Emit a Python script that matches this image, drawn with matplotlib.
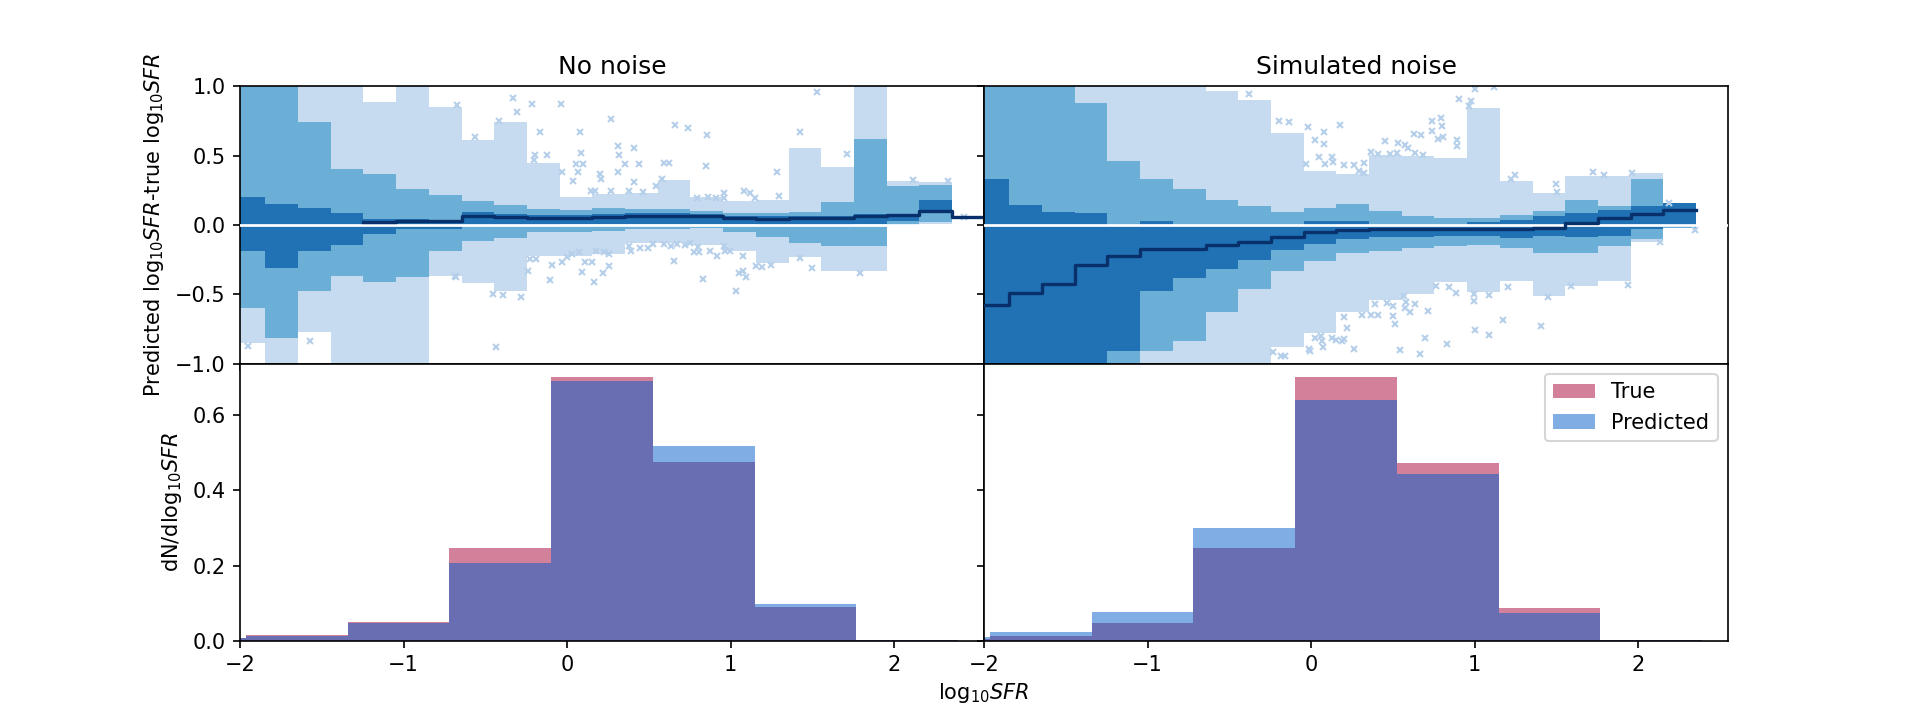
import numpy as np
import matplotlib
matplotlib.use('Agg')
import matplotlib.pyplot as plt

nan = np.nan

# residual bins in log10 SFR (width 0.2)
bin_edges = np.round(np.arange(-2.045, 2.6, 0.2), 3)

# ---- No noise: percentile bands of residual per bin ----
left_med = [nan, nan, nan, nan, 0.024, 0.029, 0.026, 0.067, 0.06, 0.053, 0.053, 0.06,
            0.065, 0.067, 0.062, 0.048, 0.043, 0.048, 0.048, 0.062, 0.075, 0.10, 0.055]
left_dark_hi = [0.204, 0.151, 0.123, 0.084, 0.04, 0.043, 0.038, 0.091, 0.079, 0.072, 0.072, 0.079,
                0.084, 0.089, 0.079, 0.067, 0.062, 0.065, 0.067, 0.082, 0.082, 0.178, 0.055]
left_dark_lo = [-0.19, -0.31, -0.185, -0.142, -0.065, -0.029, -0.029, -0.01, -0.01, 0.0, 0.005, 0.01,
                0.01, 0.01, 0.01, 0.005, 0.0, 0.0, 0.0, 0.01, 0.03, 0.084, 0.055]
left_mid_hi = [1.1, 1.1, 0.745, 0.401, 0.368, 0.257, 0.214, 0.175, 0.142, 0.113, 0.108, 0.12,
               0.113, 0.113, 0.099, 0.087, 0.089, 0.091, 0.168, 0.618, 0.284, 0.29, 0.055]
left_mid_lo = [-0.60, -0.815, -0.478, -0.365, -0.409, -0.373, -0.185, -0.118, -0.094, -0.048, -0.048, -0.043,
               -0.031, -0.029, -0.024, -0.048, -0.087, -0.127, -0.151, -0.151, 0.0, 0.02, 0.055]
left_light_hi = [1.2, 1.2, 1.2, 1.2, 0.885, 1.2, 0.849, 0.615, 0.74, 0.45, 0.204, 0.221,
                 0.23, 0.322, 0.204, 0.171, 0.18, 0.555, 0.416, 1.2, 0.32, 0.308, 0.055]
left_light_lo = [-0.853, -1.2, -0.774, -1.2, -1.2, -1.2, -0.365, -0.42, -0.476, -0.224, -0.224, -0.207,
                 -0.132, -0.132, -0.142, -0.185, -0.272, -0.231, -0.329, -0.329, -0.01, 0.01, 0.055]

left_out_x = [-0.670, -0.333, -0.306, -0.213, -0.034, -0.415, -0.163, 0.080, 0.268, 0.309, 0.408, 0.315,
              0.086, -0.195, -0.125, -0.201, 0.057, 0.098, 0.356, 0.441, 0.590, 0.625, 0.660, 0.740,
              0.854, 0.848, 1.528, 1.422, 1.712, 1.282, -0.031, 0.066, 0.312, 0.039, 0.203, 0.209,
              0.578, 0.408, 0.543, 0.145, 0.174, 0.271, 0.379, 0.467, 0.795, 0.863, 0.912, 0.962,
              0.962, 1.082, 1.118, 1.150, 1.299, 2.114, 2.330, 2.430, -0.564,
              -0.676, -0.687, -0.453, -0.394, -0.283, -0.432, -1.950, -1.569, -0.227, -0.189, -0.239,
              -0.090, -0.031, -0.002, 0.028, 0.071, 0.110, 0.151, 0.180, 0.227, 0.259, 0.259, 0.089,
              0.218, 0.162, -0.104, 0.379, 0.394, 0.444, 0.496, 0.526, 0.593, 0.637, 0.672, 0.719,
              0.751, 0.775, 0.804, 0.798, 0.877, 0.918, 0.965, 0.994, 1.076, 0.657, 0.833, 1.033,
              1.050, 1.076, 1.094, 1.156, 1.194, 1.246, 1.425, 1.501, 1.791, 0.962]
left_out_y = [0.865, 0.913, 0.813, 0.873, 0.873, 0.748, 0.668, 0.668, 0.764, 0.567, 0.553, 0.505,
              0.517, 0.505, 0.505, 0.471, 0.440, 0.440, 0.440, 0.440, 0.445, 0.445, 0.724, 0.697,
              0.651, 0.428, 0.957, 0.668, 0.512, 0.385, 0.380, 0.385, 0.385, 0.315, 0.368, 0.332,
              0.332, 0.308, 0.284, 0.248, 0.248, 0.248, 0.248, 0.236, 0.192, 0.200, 0.192, 0.228,
              0.192, 0.243, 0.231, 0.192, 0.209, 0.327, 0.315, 0.055, 0.637,
              -0.377, -0.365, -0.498, -0.502, -0.517, -0.882, -0.870, -0.839, -0.245, -0.245, -0.329,
              -0.286, -0.264, -0.233, -0.209, -0.197, -0.269, -0.264, -0.185, -0.197, -0.209, -0.293, -0.337,
              -0.349, -0.411, -0.394, -0.149, -0.190, -0.166, -0.166, -0.137, -0.137, -0.149, -0.137, -0.142,
              -0.132, -0.197, -0.197, -0.156, -0.185, -0.221, -0.185, -0.185, -0.221, -0.257, -0.389, -0.478,
              -0.346, -0.329, -0.377, -0.293, -0.305, -0.286, -0.240, -0.310, -0.346, -0.149]

# ---- Simulated noise ----
right_med = [-0.577, -0.49, -0.428, -0.286, -0.224, -0.171, -0.171, -0.142, -0.125, -0.089, -0.053,
             -0.036, -0.031, -0.031, -0.031, -0.031, -0.031, -0.024, 0.014, 0.05, 0.079, 0.106]
right_dark_hi = [0.329, 0.147, 0.096, 0.087, 0.0, 0.026, 0.0, 0.0, 0.0, 0.0, 0.026,
                 0.026, 0.0, 0.0, 0.0, 0.02, 0.036, 0.0625, 0.089, 0.11, 0.139, 0.156]
right_dark_lo = [-1.2, -1.2, -1.2, -1.2, -0.911, -0.478, -0.382, -0.317, -0.25, -0.18, -0.135,
                 -0.1, -0.089, -0.084, -0.077, -0.077, -0.096, -0.079, -0.089, -0.077, -0.029, -0.012]
right_mid_hi = [1.1, 1.1, 1.1, 0.877, 0.462, 0.329, 0.26, 0.183, 0.137, 0.091, 0.123,
                0.149, 0.101, 0.0625, 0.048, 0.053, 0.072, 0.099, 0.183, 0.139, 0.332, 0.156]
right_mid_lo = [-1.3, -1.3, -1.3, -1.3, -1.2, -0.911, -0.834, -0.63, -0.46, -0.33, -0.257,
                -0.2, -0.185, -0.166, -0.154, -0.142, -0.166, -0.204, -0.204, -0.149, -0.1, -0.02]
right_light_hi = [1.2, 1.2, 1.2, 1.2, 1.2, 1.2, 1.2, 0.964, 0.904, 0.663, 0.389,
                  0.368, 0.507, 0.495, 0.48, 0.841, 0.315, 0.23, 0.356, 0.351, 0.373, 0.156]
right_light_lo = [-1.4, -1.4, -1.4, -1.4, -1.4, -1.4, -1.4, -1.4, -1.4, -0.88, -0.779,
                  -0.63, -0.538, -0.5, -0.413, -0.486, -0.404, -0.514, -0.442, -0.406, -0.12, -0.02]

right_out_x = [-0.377, -0.198, -0.134, -0.019, 0.080, 0.180, 0.022, 0.080, -0.031, 0.048, 0.127, 0.086,
               0.136, 0.203, 0.262, 0.321, 0.291, 0.321, 0.452, 0.534, 0.573, 0.590, 0.628, 0.672,
               0.740, 0.737, 0.795, 0.801, 0.775, 0.807, 0.892, 0.892, 0.907, 0.965, 0.980, 1.000,
               1.117, 0.364, 0.408, 0.482, 0.526, 0.637, 0.687, 1.223, 1.246, 1.498, 1.504, 1.727,
               1.791, 1.961, 2.187,
               -0.230, -0.186, -0.157, -0.008, 0.074, 0.022, 0.060, 0.069, 0.130, 0.151, 0.189, 0.203,
               0.262, -0.011, 0.203, 0.218, 0.309, 0.364, 0.408, 0.502, 0.514, 0.394, 0.467, 0.502,
               0.570, 0.578, 0.573, 0.608, 0.634, 0.716, 0.546, 0.666, 0.696, 0.833, 0.766, 0.842,
               0.886, 0.994, 0.994, 1.003, 1.088, 1.091, 1.176, 1.205, 1.405, 1.452, 1.589, 1.938,
               2.137, 2.351]
right_out_y = [0.945, 0.750, 0.740, 0.704, 0.668, 0.724, 0.615, 0.584, 0.440, 0.488, 0.488, 0.440,
               0.452, 0.433, 0.433, 0.445, 0.392, 0.375, 0.603, 0.589, 0.579, 0.555, 0.656, 0.651,
               0.675, 0.748, 0.769, 0.716, 0.620, 0.637, 0.615, 0.572, 0.909, 0.856, 0.897, 0.981,
               0.993, 0.529, 0.510, 0.515, 0.522, 0.519, 0.505, 0.332, 0.361, 0.296, 0.240, 0.380,
               0.363, 0.377, 0.159,
               -0.913, -0.942, -0.942, -0.906, -0.882, -0.817, -0.803, -0.834, -0.817, -0.827, -0.834, -0.822,
               -0.894, -0.894, -0.661, -0.745, -0.647, -0.647, -0.647, -0.659, -0.714, -0.570, -0.562, -0.582,
               -0.510, -0.558, -0.599, -0.630, -0.570, -0.620, -0.899, -0.930, -0.817, -0.858, -0.438, -0.445,
               -0.490, -0.496, -0.548, -0.760, -0.793, -0.505, -0.683, -0.450, -0.728, -0.517, -0.438, -0.430,
               -0.125, -0.036]

# ---- SFR distributions ----
hist_edges = [-2.585, -1.963, -1.341, -0.719, -0.097, 0.525, 1.147, 1.769, 2.391]
left_true = [0.008, 0.015, 0.050, 0.248, 0.702, 0.476, 0.089, 0.003]
left_pred = [0.007, 0.013, 0.047, 0.207, 0.691, 0.519, 0.099, 0.003]
right_true = [0.005, 0.012, 0.048, 0.246, 0.702, 0.474, 0.086, 0.002]
right_pred = [0.010, 0.024, 0.077, 0.300, 0.640, 0.444, 0.075, 0.002]

c_light, c_mid, c_dark, c_line = '#c6dbef', '#6baed6', '#2171b5', '#08306b'
c_true, c_pred = '#a90537', '#015dcb'


def band(ax, lo, hi, color):
    e = bin_edges[:len(lo) + 1]
    ax.fill_between(e, np.append(lo, lo[-1]), np.append(hi, hi[-1]),
                    step='post', color=color, lw=0)


def resid_panel(ax, bands, med, ox, oy):
    for (lo, hi), col in zip(bands, [c_light, c_mid, c_dark]):
        band(ax, lo, hi, col)
    ax.plot(ox, oy, 'x', ls='none', ms=2.6, mew=1.0, color='#b6d0eb')
    ax.axhline(0, color='white', lw=1.3, zorder=3)
    e = bin_edges[:len(med) + 1]
    ax.plot(e, np.append(med, med[-1]), drawstyle='steps-post', color=c_line, lw=1.6, zorder=4)


def hist_panel(ax, true, pred):
    w = np.diff(hist_edges)
    ax.bar(hist_edges[:-1], true, width=w, align='edge', color=c_true, alpha=0.5, lw=0, label='True')
    ax.bar(hist_edges[:-1], pred, width=w, align='edge', color=c_pred, alpha=0.5, lw=0, label='Predicted')


fig, axes = plt.subplots(2, 2, figsize=(12.8, 4.8), dpi=150, sharex=True, sharey='row',
                         gridspec_kw=dict(hspace=0, wspace=0))

resid_panel(axes[0, 0], [(left_light_lo, left_light_hi), (left_mid_lo, left_mid_hi),
                         (left_dark_lo, left_dark_hi)], left_med, left_out_x, left_out_y)
resid_panel(axes[0, 1], [(right_light_lo, right_light_hi), (right_mid_lo, right_mid_hi),
                         (right_dark_lo, right_dark_hi)], right_med, right_out_x, right_out_y)
hist_panel(axes[1, 0], left_true, left_pred)
hist_panel(axes[1, 1], right_true, right_pred)

axes[0, 0].set_xlim(-2, 2.55)
axes[0, 0].set_ylim(-1, 1)
axes[1, 0].set_ylim(0, 0.737)
axes[0, 0].set_title('No noise')
axes[0, 1].set_title('Simulated noise')
axes[0, 0].set_ylabel(r'Predicted log$_{10}SFR$-true log$_{10}SFR$')
axes[1, 0].set_ylabel(r'dN/dlog$_{10}SFR$')
axes[1, 1].legend(loc='upper right')
fig.text(0.5125, 0.038, r'log$_{10}SFR$', ha='center', va='center')

fig.savefig('out.png', dpi=150)
